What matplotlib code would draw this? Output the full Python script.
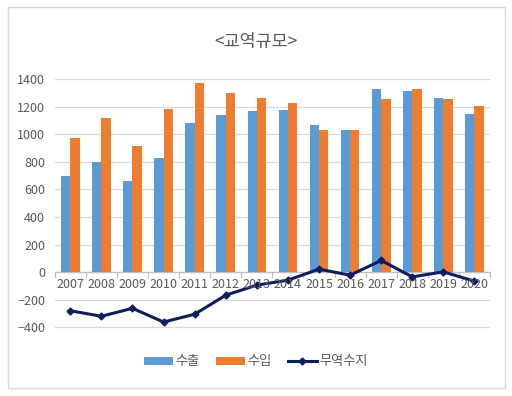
import matplotlib
matplotlib.use("Agg")
import matplotlib.pyplot as plt
import numpy as np
from matplotlib.patches import Rectangle

plt.rcParams['font.family'] = ['Noto Sans CJK KR', 'DejaVu Sans']

years = ['2007', '2008', '2009', '2010', '2011', '2012', '2013',
         '2014', '2015', '2016', '2017', '2018', '2019', '2020']
exports = [700, 800, 660, 830, 1083, 1139, 1168, 1178, 1071, 1033, 1328, 1311, 1263, 1151]
imports = [975, 1120, 917, 1185, 1376, 1301, 1260, 1224, 1033, 1033, 1253, 1328, 1253, 1205]
balance = [-280, -320, -262, -362, -305, -167, -94, -58, 22, -22, 85, -34, 2, -65]

fig = plt.figure(figsize=(5.12, 3.96), dpi=100)
fig.patches.append(Rectangle((8 / 512, 1 - 388 / 396), 497 / 512, 381 / 396,
                             transform=fig.transFigure, fill=False,
                             edgecolor='#D9D9D9', linewidth=1))

ax = fig.add_axes([0.107, 0.170, 0.85, 0.630])
x = np.arange(len(years))
w = 0.3
b1 = ax.bar(x - w / 2, exports, w, color='#5B9BD5', label='수출', zorder=3)
b2 = ax.bar(x + w / 2, imports, w, color='#ED7D31', label='수입', zorder=3)
l1, = ax.plot(x, balance, color='#0B1F5C', linewidth=2.2, marker='D', markersize=3.5,
              label='무역수지', zorder=4)

ax.set_ylim(-410, 1400)
ax.set_xlim(-0.5, len(years) - 0.5)
ax.set_yticks(range(-400, 1401, 200))
ax.grid(axis='y', color='#D9D9D9', linewidth=0.9, zorder=0)
for s in ax.spines.values():
    s.set_visible(False)
ax.tick_params(axis='y', length=0, labelsize=9, labelcolor='#595959', pad=7)

# category axis on the zero line
ax.axhline(0, color='#BFBFBF', linewidth=0.9, zorder=2)
ax.set_xticks([])
for b in np.arange(-0.5, len(years), 1.0):
    ax.plot([b, b], [0, -35], color='#BFBFBF', linewidth=0.9, zorder=2, clip_on=False)
for xi, yr in zip(x, years):
    ax.text(xi, -45, yr, ha='center', va='top', fontsize=9, color='#595959', zorder=5)

fig.text(0.5, 1 - 42 / 396, '<교역규모>', ha='center', va='center',
         fontsize=12.5, color='#595959')

fig.legend([b1, b2, l1], ['수출', '수입', '무역수지'], loc='center',
           bbox_to_anchor=(0.5, 1 - 362 / 396), ncol=3, frameon=False,
           fontsize=9.5, handlelength=2.2, handleheight=0.5, columnspacing=1.2,
           handletextpad=0.2, labelcolor='#595959')

fig.savefig('out.png', dpi=100)
